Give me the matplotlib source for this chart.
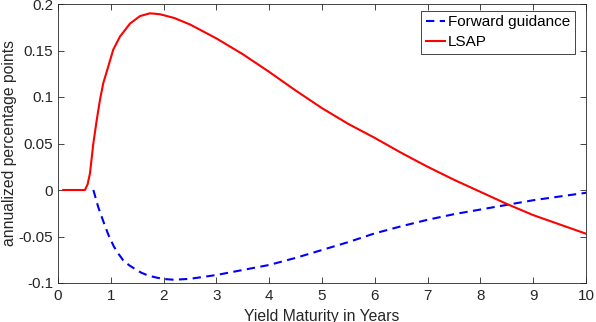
import matplotlib
matplotlib.use('Agg')
import matplotlib.pyplot as plt

# LSAP response (red, solid)
lsap_x = [0.1, 0.51, 0.56, 0.606, 0.669, 0.733, 0.795, 0.858, 0.953, 1.047, 1.174, 1.364, 1.553, 1.742,
          1.93, 2.2, 2.5, 3.0, 3.5, 4.0, 4.5, 5.0, 5.5, 6.0, 6.5, 7.0, 7.5, 8.0, 8.5, 9.0, 9.5, 10.0]
lsap_y = [0.0, 0.0, 0.006, 0.018, 0.050, 0.075, 0.097, 0.115, 0.133, 0.151, 0.165, 0.179, 0.187, 0.190,
          0.189, 0.185, 0.178, 0.163, 0.146, 0.127, 0.107, 0.088, 0.071, 0.056, 0.040, 0.025, 0.011, -0.002, -0.015, -0.027, -0.037, -0.047]

# Forward guidance response (blue, dashed)
fg_x = [0.67, 0.76, 0.86, 0.96, 1.06, 1.15, 1.24, 1.35, 1.46, 1.58, 1.71, 1.85, 2.0, 2.2, 2.5, 3.0, 3.5, 4.0, 4.5,
        5.0, 5.5, 6.0, 6.5, 7.0, 7.5, 8.0, 8.5, 9.0, 9.5, 10.0]
fg_y = [0.0, -0.018, -0.034, -0.049, -0.061, -0.069, -0.076, -0.081, -0.085, -0.089, -0.092, -0.094, -0.0957, -0.0965, -0.0955, -0.0914, -0.086, -0.0806, -0.073,
        -0.0645, -0.056, -0.0466, -0.039, -0.032, -0.026, -0.021, -0.016, -0.011, -0.007, -0.003]

xticks = [0, 1, 2, 3, 4, 5, 6, 7, 8, 9, 10]
yticks = [-0.1, -0.05, 0, 0.05, 0.1, 0.15, 0.2]
ytick_labels = ['-0.1', '-0.05', '0', '0.05', '0.1', '0.15', '0.2']

plt.rcParams['font.family'] = ['Liberation Sans', 'DejaVu Sans']
dark = '#262626'

fig = plt.figure(figsize=(5.96, 3.22), dpi=100)
# axes box: x 58..586 px, y 4..283 px
ax = fig.add_axes([58 / 596, (322 - 283) / 322, 528 / 596, 279 / 322])

ax.plot(fg_x, fg_y, '--', color='#0000ff', linewidth=1.5, dashes=(4, 2.6), label='Forward guidance')
ax.plot(lsap_x, lsap_y, '-', color='#ff0000', linewidth=1.5, label='LSAP')

ax.set_xlim(0, 10)
ax.set_ylim(-0.1, 0.2)
ax.set_xticks(xticks)
ax.set_xticklabels([str(t) for t in xticks])
ax.set_yticks(yticks)
ax.set_yticklabels(ytick_labels)
ax.tick_params(direction='in', top=True, right=True, length=4, width=0.6,
               labelsize=11, colors=dark)
ax.tick_params(axis='x', pad=4.5)
ax.tick_params(axis='y', pad=3.5)
for s in ax.spines.values():
    s.set_color(dark)
    s.set_linewidth(0.6)

ax.set_xlabel('Yield Maturity in Years', fontsize=11.3, color=dark, labelpad=4.5)
ax.set_ylabel('annualized percentage points', fontsize=11.3, color=dark, labelpad=1)

leg = ax.legend(loc='upper right', bbox_to_anchor=(363 / 528, 0.5, 153.5 / 528, 1 - 6.7 / 279 - 0.5),
                mode='expand', fontsize=11, fancybox=False, framealpha=1,
                edgecolor=dark, handlelength=1.3, handletextpad=0.15,
                borderpad=0.3, labelspacing=0.4, borderaxespad=0)
leg.get_frame().set_linewidth(0.6)
for t in leg.get_texts():
    t.set_color('black')

fig.savefig('out.png', dpi=100)
